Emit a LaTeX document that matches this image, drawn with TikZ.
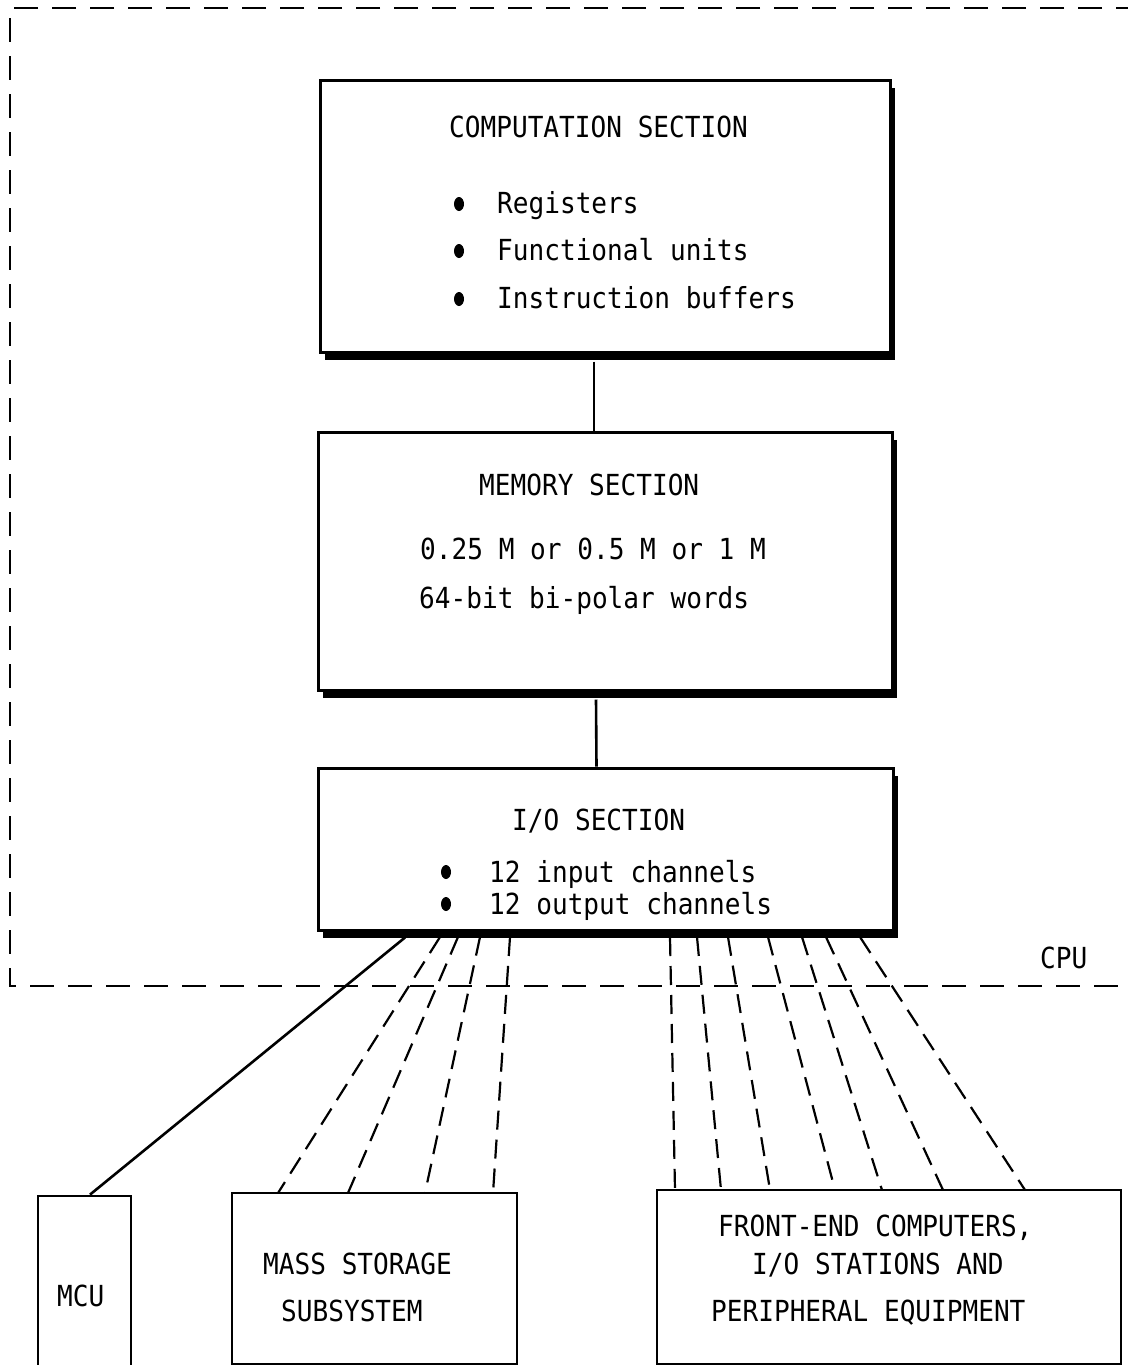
\documentclass[tikz,border=0pt]{standalone}
\usepackage{fontspec}
\usetikzlibrary{shapes.geometric,shadows}
\newfontfamily\lgfont[FakeStretch=0.9]{DejaVu Sans Mono}
\begin{document}
\begin{tikzpicture}[x=1pt,y=-1pt,
  lbl/.style={inner sep=0pt, anchor=base west, font=\lgfont\fontsize{29}{34}\selectfont},
  sbox/.style={draw, line width=3pt, fill=white, inner sep=0pt,
    drop shadow={shadow xshift=5pt, shadow yshift=-8pt, fill=black, opacity=1}},
  pbox/.style={draw, line width=2.8pt, fill=white, inner sep=0pt},
  bul/.style={ellipse, fill=black, inner sep=0pt, minimum width=10pt, minimum height=14pt},
  cpuline/.style={line width=2.8pt, dash pattern=on 24pt off 14pt},
  link/.style={line width=2.6pt},
  fan/.style={line width=2.2pt, dash pattern=on 19pt off 10pt}
]
\useasboundingbox (0,0) rectangle (1127,1365);

% CPU boundary
\coordinate (cpuTR) at (1140,8);
\coordinate (cpuTL) at (10,8);
\coordinate (cpuBL) at (10,986);
\coordinate (cpuBR) at (1140,986);
\draw[cpuline] (cpuTR) -- (cpuTL) -- (cpuBL) -- (cpuBR);
\node[lbl] (cpu) at (1040,968) {CPU};

% Main boxes
\node[sbox, minimum width=570pt, minimum height=272pt] (comp) at (605,216) {};
\node[sbox, minimum width=574pt, minimum height=258pt] (mem) at (605,561) {};
\node[sbox, minimum width=575pt, minimum height=162pt] (io) at (605.5,849) {};

% Bottom boxes
\node[pbox, minimum width=93pt, minimum height=180pt] (mcu) at (84.5,1286) {};
\node[pbox, minimum width=285pt, minimum height=171pt] (mass) at (374.5,1278.5) {};
\node[pbox, minimum width=464pt, minimum height=174pt] (front) at (889,1277) {};

% vertical links
\draw[link] ([xshift=-11pt,yshift=-8pt]comp.south) -- ([xshift=-11pt]mem.north);
\draw[link] ([xshift=-9pt,yshift=-8pt]mem.south) -- ([xshift=-9pt]io.north);

% MCU link
\draw[link] ([xshift=-200.5pt,yshift=-6pt]io.south) -- ([xshift=5.5pt]mcu.north);

% fan to mass storage
\foreach \s/\e [count=\i] in {440/278, 458/348, 480/425, 510/493}{
  \coordinate (ms\i) at (\s,937);
  \coordinate (me\i) at (\e,1193);
  \draw[fan] (ms\i) -- (me\i);
}
% fan to front-end
\foreach \s/\e [count=\i] in {670/675, 697/721, 728/770, 768/835, 802/882, 826/943, 860/1025}{
  \coordinate (fs\i) at (\s,937);
  \coordinate (fe\i) at (\e,1190);
  \draw[fan] (fs\i) -- (fe\i);
}

% Computation text
\node[lbl] (compT) at (449,137) {COMPUTATION SECTION};
\node[bul] (cb1) at (459,204) {};
\node[bul] (cb2) at (459,251) {};
\node[bul] (cb3) at (459,299) {};
\node[lbl] (c1) at (497,213) {Registers};
\node[lbl] (c2) at (497,260) {Functional units};
\node[lbl] (c3) at (497,308) {Instruction buffers};

% Memory text
\node[lbl] (memT) at (479,495) {MEMORY SECTION};
\node[lbl] (m1) at (420,559) {0.25 M or 0.5 M or 1 M};
\node[lbl] (m2) at (419,608) {64-bit bi-polar words};

% I/O text
\node[lbl] (ioT) at (512,830) {I/O SECTION};
\node[bul] (ib1) at (446,872) {};
\node[bul] (ib2) at (446,904) {};
\node[lbl] (i1) at (489,882) {12 input channels};
\node[lbl] (i2) at (489,914) {12 output channels};

% Bottom texts
\node[lbl] (mcuT) at (57,1306) {MCU};
\node[lbl] (ms1T) at (263,1274) {MASS STORAGE};
\node[lbl] (ms2T) at (281,1321) {SUBSYSTEM};
\node[lbl] (f1) at (718,1236) {FRONT-END COMPUTERS,};
\node[lbl] (f2) at (752,1274) {I/O STATIONS AND};
\node[lbl] (f3) at (711,1321) {PERIPHERAL EQUIPMENT};
\end{tikzpicture}
\end{document}
